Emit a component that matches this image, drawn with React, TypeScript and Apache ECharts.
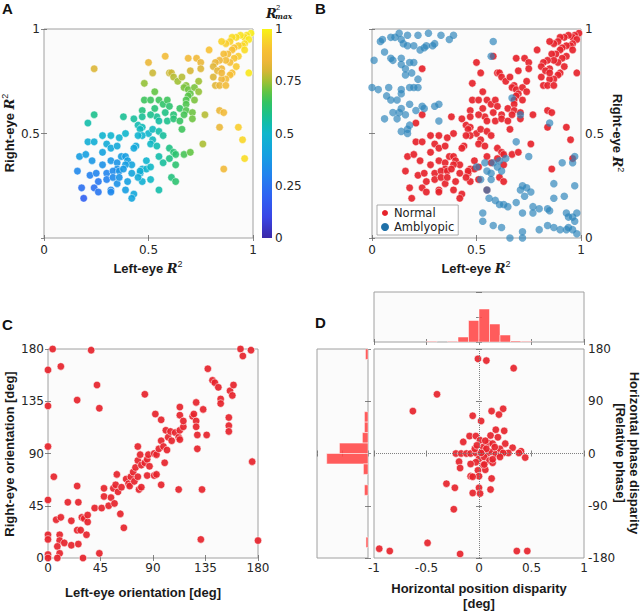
import React, { useEffect, useRef } from "react";
import * as echarts from "echarts";

// ---------- DATA ----------
// Panel A / B (Normal): [left-eye R2, right-eye R2]
const normalR2: [number, number][] = [
  [0.99,0.98],[0.97,0.97],[0.96,0.96],[0.94,0.97],[0.92,0.96],[0.90,0.96],[0.89,0.94],[0.87,0.93],[0.85,0.94],[0.98,0.95],
  [0.96,0.93],[0.95,0.92],[0.93,0.92],[0.91,0.91],[0.90,0.90],[0.88,0.88],[0.86,0.88],[0.96,0.90],[0.93,0.87],[0.91,0.86],
  [0.89,0.84],[0.87,0.85],[0.84,0.85],[0.82,0.84],[0.81,0.82],[0.85,0.81],[0.83,0.80],[0.98,0.79],[0.90,0.79],[0.89,0.78],
  [0.87,0.76],[0.85,0.76],[0.82,0.73],[0.84,0.73],[0.87,0.73],[0.79,0.90],[0.92,0.82],[0.85,0.79],[0.81,0.77],[0.73,0.86],
  [0.69,0.86],[0.75,0.84],[0.75,0.81],[0.70,0.80],[0.58,0.87],[0.50,0.84],[0.52,0.79],[0.60,0.79],[0.61,0.79],[0.62,0.77],
  [0.64,0.75],[0.66,0.77],[0.68,0.73],[0.67,0.72],[0.69,0.71],[0.72,0.72],[0.74,0.75],[0.74,0.70],[0.70,0.69],[0.72,0.66],
  [0.69,0.68],[0.68,0.66],[0.68,0.64],[0.65,0.62],[0.68,0.61],[0.67,0.59],[0.71,0.60],[0.77,0.59],[0.71,0.57],[0.48,0.74],
  [0.48,0.66],[0.51,0.66],[0.53,0.70],[0.55,0.66],[0.57,0.64],[0.59,0.66],[0.60,0.63],[0.62,0.59],[0.58,0.60],[0.53,0.62],
  [0.54,0.58],[0.51,0.59],[0.55,0.56],[0.59,0.56],[0.62,0.57],[0.65,0.56],[0.66,0.52],[0.47,0.61],[0.47,0.58],[0.43,0.57],
  [0.38,0.58],[0.45,0.54],[0.47,0.53],[0.46,0.52],[0.50,0.50],[0.47,0.49],[0.45,0.49],[0.52,0.52],[0.52,0.47],[0.55,0.51],
  [0.57,0.49],[0.51,0.45],[0.54,0.44],[0.44,0.44],[0.39,0.50],[0.84,0.61],[0.86,0.60],[0.84,0.53],[0.93,0.53],[0.95,0.47],
  [0.96,0.38],[0.76,0.45],[0.86,0.33],[0.60,0.43],[0.62,0.41],[0.63,0.40],[0.55,0.39],[0.57,0.36],[0.60,0.38],[0.63,0.35],
  [0.67,0.40],[0.70,0.41],[0.61,0.29],[0.63,0.27],[0.55,0.23],[0.51,0.28],[0.49,0.37],[0.47,0.33],[0.46,0.31],[0.47,0.27],
  [0.43,0.21],[0.42,0.19],[0.49,0.33],[0.51,0.34],[0.24,0.81],[0.24,0.59],[0.21,0.55],[0.21,0.46],[0.24,0.46],[0.28,0.49],
  [0.32,0.49],[0.36,0.48],[0.30,0.45],[0.28,0.41],[0.32,0.43],[0.35,0.44],[0.43,0.43],[0.17,0.39],[0.20,0.40],[0.23,0.37],
  [0.28,0.35],[0.32,0.37],[0.35,0.36],[0.37,0.39],[0.39,0.39],[0.40,0.37],[0.42,0.35],[0.39,0.35],[0.35,0.33],[0.16,0.32],
  [0.22,0.30],[0.25,0.31],[0.30,0.31],[0.33,0.32],[0.36,0.32],[0.38,0.33],[0.42,0.31],[0.46,0.32],[0.26,0.27],[0.30,0.28],
  [0.35,0.26],[0.40,0.27],[0.18,0.24],[0.24,0.24],[0.26,0.22],[0.32,0.23],[0.32,0.22],[0.39,0.23],[0.19,0.19],[0.33,0.29],
  [0.36,0.29],[0.45,0.29]
];

// Panel B (Amblyopic): [left-eye R2, right-eye R2]
const amblyopicR2: [number, number][] = [
  [0.01,0.85],[0.04,0.94],[0.05,0.95],[0.06,0.89],[0.09,0.96],[0.09,0.86],[0.10,0.85],[0.11,0.96],[0.13,0.98],[0.14,0.95],
  [0.14,0.86],[0.15,0.93],[0.17,0.97],[0.17,0.92],[0.18,0.84],[0.20,0.84],[0.20,0.92],[0.22,0.97],[0.23,0.90],[0.25,0.91],
  [0.26,0.92],[0.27,0.98],[0.29,0.92],[0.30,0.93],[0.33,0.97],[0.37,0.95],[0.39,0.97],[0.14,0.83],[0.16,0.81],[0.19,0.79],
  [0.22,0.76],[0.16,0.78],[0.20,0.72],[0.22,0.72],[0.18,0.72],[0.14,0.71],[0.14,0.69],[0.08,0.72],[0.07,0.68],[0.03,0.71],
  [0.00,0.72],[0.09,0.66],[0.12,0.66],[0.14,0.62],[0.18,0.64],[0.21,0.61],[0.24,0.63],[0.30,0.63],[0.32,0.64],[0.13,0.60],
  [0.10,0.60],[0.06,0.57],[0.12,0.57],[0.16,0.59],[0.18,0.54],[0.17,0.52],[0.14,0.51],[0.17,0.50],[0.32,0.56],[0.25,0.62],
  [0.58,0.94],[0.57,0.87],[0.67,0.67],[0.71,0.59],[0.85,0.55],[0.69,0.46],[0.75,0.39],[0.64,0.38],[0.61,0.37],[0.58,0.36],
  [0.54,0.36],[0.50,0.34],[0.55,0.32],[0.60,0.34],[0.62,0.32],[0.57,0.31],[0.57,0.28],[0.52,0.28],[0.55,0.23],[0.56,0.19],
  [0.59,0.18],[0.61,0.16],[0.63,0.16],[0.65,0.15],[0.69,0.17],[0.71,0.23],[0.74,0.24],[0.72,0.25],[0.76,0.22],[0.73,0.20],
  [0.77,0.15],[0.72,0.12],[0.77,0.12],[0.80,0.14],[0.84,0.14],[0.85,0.13],[0.87,0.19],[0.87,0.26],[0.91,0.36],[0.97,0.39],
  [0.96,0.36],[0.97,0.25],[0.92,0.20],[0.93,0.12],[0.94,0.10],[0.96,0.10],[0.97,0.08],[0.98,0.12],[0.94,0.05],[0.96,0.04],
  [0.98,0.02],[0.93,0.04],[0.90,0.04],[0.87,0.05],[0.84,0.06],[0.80,0.04],[0.72,0.03],[0.72,0.00],[0.66,0.00],[0.62,0.05],
  [0.58,0.06],[0.53,0.08],[0.53,0.12]
];

// Panel C: [left-eye orientation, right-eye orientation] (deg)
const orientation: [number, number][] = [
  [4,180],[37,179],[0,162],[11,165],[42,149],[25,136],[44,129],[0,131],[83,141],[92,124],
  [97,119],[0,96],[5,70],[0,50],[7,33],[11,35],[0,20],[0,16],[10,20],[10,15],
  [14,13],[8,10],[10,4],[0,3],[0,0],[8,0],[30,0],[44,4],[17,48],[20,32],
  [20,11],[26,12],[25,24],[28,24],[33,20],[29,35],[31,34],[34,31],[34,37],[26,48],
  [25,62],[40,43],[46,43],[48,53],[48,60],[52,45],[54,52],[56,60],[58,63],[59,72],
  [62,38],[65,26],[57,47],[60,57],[63,61],[67,68],[69,64],[71,70],[73,74],[70,62],
  [74,66],[75,78],[77,70],[78,59],[80,61],[77,84],[77,96],[79,89],[80,80],[83,82],
  [85,85],[86,89],[87,79],[85,71],[91,71],[93,72],[91,90],[93,89],[95,94],[97,101],
  [99,96],[102,93],[100,82],[97,63],[101,110],[103,104],[106,101],[105,109],[109,108],[112,104],
  [113,110],[116,113],[113,102],[113,123],[113,130],[116,118],[112,59],[124,122],[125,124],[127,118],
  [127,113],[127,134],[128,94],[128,106],[132,59],[131,16],[133,128],[136,106],[137,163],[141,153],
  [143,151],[146,147],[148,137],[148,133],[156,144],[159,149],[158,140],[155,121],[155,114],[155,109],
  [165,180],[167,174],[174,179],[175,83],[180,15]
];

// Panel D: [horizontal position disparity (deg), horizontal phase disparity (deg)]
const disparity: [number, number][] = [
  [-0.01,163],[0.07,160],[0.33,147],[-0.40,102],[-0.63,73],[0.12,73],[0.23,77],[0.19,67],[-0.06,65],[0.02,56],
  [0.16,41],[0.24,39],[-0.09,30],[-0.03,30],[0.11,31],[0.18,28],[-0.15,20],[0.01,23],[0.09,18],[0.13,17],
  [0.25,17],[0.32,10],[0.40,4],[0.38,1],[0.44,-7],[-0.22,0],[-0.17,0],[-0.12,0],[-0.08,0],[-0.03,1],
  [0.03,3],[0.08,0],[0.12,3],[0.16,-1],[0.21,0],[0.28,1],[0.04,11],[0.07,8],[0.20,8],[-0.04,8],
  [0.00,-9],[0.05,-6],[0.10,-12],[-0.03,-15],[-0.19,-14],[-0.08,-18],[0.04,-20],[0.13,-16],[-0.18,-25],[-0.01,-29],
  [-0.08,-39],[0.00,-39],[0.12,-43],[-0.31,-52],[-0.23,-59],[0.00,-59],[-0.06,-68],[0.01,-69],[0.11,-62],[-0.24,-96],
  [-0.49,-154],[-0.95,-164],[-0.85,-168],[-0.18,-173],[0.36,-168],[0.46,-168],[0.02,1],[0.23,1],[0.13,-10],[0.20,-6],
  [0.06,-28],[-0.06,-40],[0.05,-19],[0.15,11],[0.06,22],[-0.02,14]
];

// Panel D marginal histograms (relative frequency)
const posBinStarts = [-0.5, -0.3, -0.2, -0.1, 0, 0.1, 0.2, 0.3, 0.4];
const posFreq = [0.013, 0.013, 0.10, 0.43, 0.66, 0.36, 0.14, 0.02, 0.013];
const posBinWidth = 0.1;
const phaseBinStarts = [162, 54, 36, 18, 0, -18, -36, -72, -162];
const phaseFreq = [0.05, 0.07, 0.07, 0.11, 0.56, 0.81, 0.09, 0.07, 0.04];
const phaseBinWidth = 18;

// Colormap for R2max (0..1, evenly spaced)
const cmap = [
  "#3b28a8", "#3a37c7", "#3a46e6", "#3454ec", "#2f62f2", "#2972f0", "#2382ee", "#1c91e7", "#15a0e0", "#12abd6",
  "#10b6cc", "#12bcaa", "#1fc184", "#34c362", "#62c444", "#a0c034", "#d6b636", "#efb73a", "#f7c034", "#f8d628", "#f8f314"
];

// ---------- STYLE ----------
const LABEL = { color: "#262626", fontFamily: "DejaVu Sans", fontSize: 12 };
const TITLE_FONT = "Liberation Sans";
const RED = "#e6232b";

function buildOption() {
  const grids: any[] = [];
  const xAxes: any[] = [];
  const yAxes: any[] = [];
  const tick = { show: true, inside: true, length: 3, lineStyle: { color: "#666", width: 0.8 } };

  function addPanel(rect: number[], xr: any[], yr: any[], o: any) {
    const gi = grids.length;
    grids.push({
      left: rect[0], top: rect[1], width: rect[2], height: rect[3],
      show: true, backgroundColor: "#fbfbfb", borderColor: "#a0a0a0", borderWidth: 1,
    });
    const mk = (pos: string, r: any[], labels: boolean, extra?: any) => ({
      type: "value", gridIndex: gi, position: pos, min: r[0], max: r[1], interval: r[2], inverse: !!r[3],
      axisLine: { show: false }, axisTick: tick, splitLine: { show: false },
      axisLabel: labels ? { ...LABEL, margin: 4, ...(extra || {}) } : { show: false },
    });
    const xi = xAxes.length;
    xAxes.push(mk("bottom", xr, !!o.xLabels, o.xExtra));
    xAxes.push(mk("top", xr, false));
    const yi = yAxes.length;
    yAxes.push(mk(o.yPos, yr, !!o.yLabels, o.yExtra));
    yAxes.push(mk(o.yPos === "left" ? "right" : "left", yr, false));
    return { xi, yi };
  }

  const A = addPanel([44, 29, 209, 209], [0, 1, 0.5], [0, 1, 0.5], { xLabels: true, yLabels: true, yPos: "left", yExtra: { showMinLabel: false }, xExtra: { margin: 6 } });
  // colorbar axis grid
  const cbGrid = grids.length;
  grids.push({ left: 262, top: 29, width: 10, height: 209, show: false });
  const cbX = xAxes.length;
  xAxes.push({ type: "value", gridIndex: cbGrid, show: false, min: 0, max: 1 });
  const cbY = yAxes.length;
  yAxes.push({
    type: "value", gridIndex: cbGrid, position: "right", min: 0, max: 1, interval: 0.25,
    axisLine: { show: false }, axisTick: { show: false }, splitLine: { show: false },
    axisLabel: { ...LABEL, margin: 3 },
  });
  const B = addPanel([372, 29, 209, 209], [0, 1, 0.5], [0, 1, 0.5], { xLabels: true, yLabels: true, yPos: "right", xExtra: { margin: 6 } });
  const C = addPanel([48, 349, 210, 209], [0, 180, 45], [0, 180, 45], { xLabels: true, yLabels: true, yPos: "left" });
  const D = addPanel([374, 349, 210, 209], [-1, 1, 0.5], [-180, 180, 90], { xLabels: true, yLabels: true, yPos: "right" });
  const TH = addPanel([374, 292, 210, 50], [-1, 1, 0.5], [0, 1, 0.5], { xLabels: false, yLabels: false, yPos: "left" });
  const LH = addPanel([317, 349, 51, 209], [0, 1, 0.5, true], [-180, 180, 90], { xLabels: false, yLabels: false, yPos: "left" });

  const histFill = "rgba(255,70,70,0.88)";

  const series: any[] = [
    {
      name: "A", type: "scatter", xAxisIndex: A.xi, yAxisIndex: A.yi, symbolSize: 7.5,
      data: normalR2.map((p) => [p[0], p[1], Math.max(p[0], p[1])]),
      itemStyle: { opacity: 0.9, borderColor: "#ffffff", borderWidth: 0.5 },
    },
    {
      name: "Normal", type: "scatter", xAxisIndex: B.xi, yAxisIndex: B.yi, symbolSize: 7.5,
      data: normalR2, itemStyle: { color: RED, opacity: 0.92, borderColor: "#ffffff", borderWidth: 0.5 },
    },
    {
      name: "Amblyopic", type: "scatter", xAxisIndex: B.xi, yAxisIndex: B.yi, symbolSize: 7.5,
      data: amblyopicR2, itemStyle: { color: "#2b83ba", opacity: 0.68 },
    },
    {
      name: "C", type: "scatter", xAxisIndex: C.xi, yAxisIndex: C.yi, symbolSize: 7.5,
      data: orientation, itemStyle: { color: RED, opacity: 0.92, borderColor: "#ffffff", borderWidth: 0.6 },
    },
    {
      name: "Dzero", type: "scatter", xAxisIndex: D.xi, yAxisIndex: D.yi, data: [], z: 1,
      markLine: {
        silent: true, symbol: "none", label: { show: false },
        lineStyle: { color: "#808080", type: "dotted", width: 1 },
        data: [{ xAxis: 0 }, { yAxis: 0 }],
      },
    },
    {
      name: "D", type: "scatter", xAxisIndex: D.xi, yAxisIndex: D.yi, symbolSize: 7.5, z: 3,
      data: disparity, itemStyle: { color: RED, opacity: 0.92, borderColor: "#ffffff", borderWidth: 0.6 },
    },
    {
      name: "posHist", type: "custom", xAxisIndex: TH.xi, yAxisIndex: TH.yi,
      data: posBinStarts.map((s, i) => [s, s + posBinWidth, posFreq[i]]),
      encode: { x: [0, 1], y: 2 },
      renderItem: (params: any, api: any) => {
        const p0 = api.coord([api.value(0), 0]);
        const p1 = api.coord([api.value(1), api.value(2)]);
        return {
          type: "rect",
          shape: { x: p0[0], y: p1[1], width: p1[0] - p0[0], height: p0[1] - p1[1] },
          style: { fill: histFill, stroke: "#ffffff", lineWidth: 0.5 },
        };
      },
    },
    {
      name: "phaseHist", type: "custom", xAxisIndex: LH.xi, yAxisIndex: LH.yi,
      data: phaseBinStarts.map((s, i) => [phaseFreq[i], s, s + phaseBinWidth]),
      encode: { x: 0, y: [1, 2] },
      renderItem: (params: any, api: any) => {
        const p0 = api.coord([0, api.value(1)]);
        const p1 = api.coord([api.value(0), api.value(2)]);
        const x = Math.min(p0[0], p1[0]);
        const y = Math.min(p0[1], p1[1]);
        return {
          type: "rect",
          shape: { x, y, width: Math.abs(p1[0] - p0[0]), height: Math.abs(p1[1] - p0[1]) },
          style: { fill: histFill, stroke: "#ffffff", lineWidth: 0.5 },
        };
      },
    },
    { name: "cb", type: "scatter", xAxisIndex: cbX, yAxisIndex: cbY, data: [] },
  ];

  const titleRich = {
    b: { fontFamily: TITLE_FONT, fontWeight: "bold", fontSize: 13, fill: "#1a1a1a" },
    r: { fontFamily: "DejaVu Serif", fontStyle: "italic", fontWeight: "bold", fontSize: 13, fill: "#1a1a1a" },
    s: { fontFamily: TITLE_FONT, fontSize: 9, fill: "#1a1a1a", padding: [0, 0, 8, 0] },
  };
  const boldText = (text: string, x: number, y: number, rot = 0, extra: any = {}) => ({
    type: "text", x, y, rotation: rot,
    style: {
      text, fontFamily: TITLE_FONT, fontWeight: "bold", fontSize: 13, fill: "#1a1a1a",
      align: "center", verticalAlign: "middle", ...extra,
    },
  });
  const r2Text = (label: string, x: number, y: number, rot = 0) => ({
    type: "text", x, y, rotation: rot,
    style: {
      text: `{b|${label} }{r|R}{s|2}`, rich: titleRich, align: "center", verticalAlign: "middle",
    },
  });
  const panelLetter = (t: string, x: number, y: number) => ({
    type: "text", x, y,
    style: { text: t, fontFamily: TITLE_FONT, fontWeight: "bold", fontSize: 15, fill: "#111", align: "left", verticalAlign: "top" },
  });

  const graphic: any[] = [
    {
      type: "rect", shape: { x: 262, y: 29, width: 10, height: 209 },
      style: {
        fill: new echarts.graphic.LinearGradient(0, 1, 0, 0, cmap.map((c, i) => ({ offset: i / (cmap.length - 1), color: c }))),
      },
    },
    { type: "text", x: 266, y: 13, style: { text: "R", fontFamily: "DejaVu Serif", fontStyle: "italic", fontWeight: "bold", fontSize: 13, fill: "#1a1a1a", align: "left", verticalAlign: "middle" } },
    { type: "text", x: 276, y: 7, style: { text: "2", fontFamily: TITLE_FONT, fontSize: 7.5, fill: "#1a1a1a", align: "left", verticalAlign: "middle" } },
    { type: "text", x: 275, y: 16.5, style: { text: "max", fontFamily: "DejaVu Serif", fontStyle: "italic", fontWeight: "bold", fontSize: 7.5, fill: "#1a1a1a", align: "left", verticalAlign: "middle" } },
    panelLetter("A", 2, 1),
    panelLetter("B", 315, 1),
    panelLetter("C", 2, 317),
    panelLetter("D", 315, 315),
    r2Text("Left-eye", 148, 268),
    r2Text("Right-eye", 9, 133, Math.PI / 2),
    r2Text("Left-eye", 476, 268),
    r2Text("Right-eye", 617, 133, -Math.PI / 2),
    boldText("Left-eye orientation [deg]", 143, 592),
    boldText("Right-eye orientation [deg]", 9, 454, Math.PI / 2),
    boldText("Horizontal position disparity\n[deg]", 479, 596, 0, { lineHeight: 15 }),
    boldText("Horizontal phase disparity\n[Relative phase]", 627, 453, -Math.PI / 2, { lineHeight: 14 }),
  ];

  return {
    animation: false,
    backgroundColor: "#ffffff",
    grid: grids,
    xAxis: xAxes,
    yAxis: yAxes,
    visualMap: {
      show: false, type: "continuous", seriesIndex: 0, dimension: 2, min: 0, max: 1,
      inRange: { color: cmap },
    },
    legend: {
      data: [
        { name: "Normal", itemStyle: { color: RED, opacity: 1 } },
        { name: "Amblyopic", itemStyle: { color: "#1f70a8", opacity: 1 } },
      ],
      orient: "vertical", left: 377, top: 205, icon: "circle", itemWidth: 8, itemHeight: 8, itemGap: 2,
      padding: [2, 4, 2, 3], backgroundColor: "#ffffff", borderColor: "#999999", borderWidth: 0.8,
      textStyle: { fontFamily: "DejaVu Sans", fontSize: 11.5, color: "#222" },
    },
    graphic,
    series,
  };
}

export default function App() {
  const ref = useRef<HTMLDivElement>(null);
  useEffect(() => {
    if (!ref.current) return;
    const chart = echarts.init(ref.current, undefined, { renderer: "svg" });
    chart.setOption(buildOption() as any);
    return () => chart.dispose();
  }, []);
  return (
    <div
      ref={ref}
      style={{ position: "fixed", left: 0, top: 0, width: 640, height: 613, background: "#fff" }}
    />
  );
}
